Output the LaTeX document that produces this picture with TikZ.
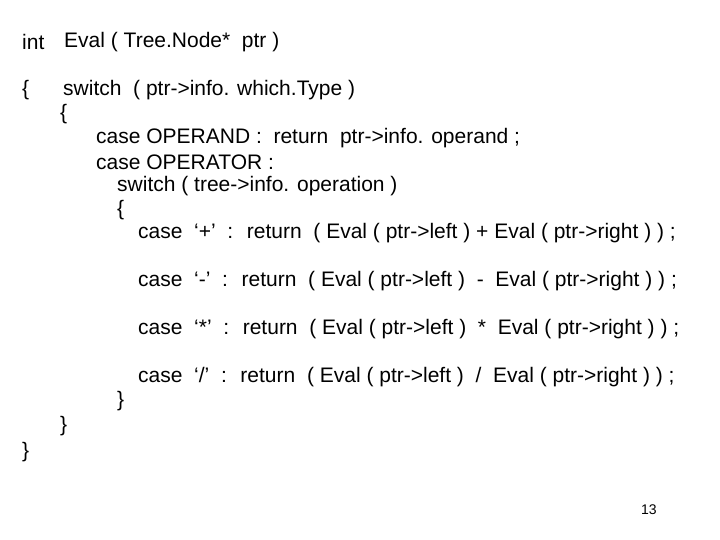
\documentclass[tikz,border=0pt]{standalone}
\usepackage{fontspec}
\setmainfont{Liberation Sans}
\begin{document}
\begin{tikzpicture}[x=1pt,y=-1pt,
  codeline/.style={anchor=west,inner sep=0pt,font=\fontsize{21}{24}\selectfont}]
\useasboundingbox (0,0) rectangle (720,540);
\node[codeline] (head) at (22,42) {int};
\node[codeline] (evalname) at (64,42) {Eval ( Tree.Node*\ \ ptr )};
\node[codeline] (ob0) at (22,90) {\{};
\node[codeline] (sw1) at (63,90) {switch\ \ ( ptr->info. which.Type )};
\node[codeline] (ob1) at (60,114) {\{};
\node[codeline] (c1) at (96,138) {case OPERAND : \ return\ \ ptr->info. operand ;};
\node[codeline] (c2) at (96,162) {case OPERATOR :};
\node[codeline] (sw2) at (117,186) {switch ( tree->info. operation )};
\node[codeline] (ob2) at (117,210) {\{};
\node[codeline] (plus) at (138,233) {case\ \ ‘+’\ \ : \ return\ \ ( Eval ( ptr->left ) + Eval ( ptr->right ) ) ;};
\node[codeline] (minus) at (138,281) {case\ \ ‘-’\ \ : \ return\ \ ( Eval ( ptr->left )\ \ -\ \ Eval ( ptr->right ) ) ;};
\node[codeline] (times) at (138,329) {case\ \ ‘*’\ \ : \ return\ \ ( Eval ( ptr->left )\ \ *\ \ Eval ( ptr->right ) ) ;};
\node[codeline] (div) at (138,377) {case\ \ ‘/’\ \ : \ return\ \ ( Eval ( ptr->left )\ \ /\ \ Eval ( ptr->right ) ) ;};
\node[codeline] (cb2) at (117,401) {\}};
\node[codeline] (cb1) at (60,426) {\}};
\node[codeline] (cb0) at (22,452) {\}};
\node[anchor=west,inner sep=0pt,font=\fontsize{14}{16}\selectfont] (page) at (641,510) {13};
\end{tikzpicture}
\end{document}
